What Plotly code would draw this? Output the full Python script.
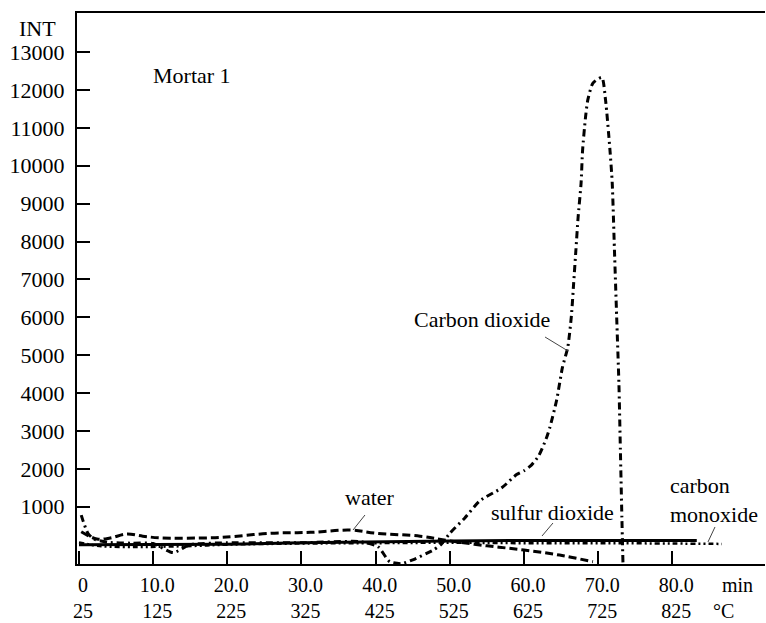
import plotly.graph_objects as go

# ---- data (time in min, intensity INT) ----
water_t = [0.3, 2.4, 4.2, 6.4, 8.6, 10.9, 17.7, 19.9, 25.8, 31.2, 36.6, 40.1, 46.0, 50.0, 55.0, 60.0, 64.8, 69.3]
water_v = [340, 150, 175, 280, 225, 180, 180, 200, 300, 325, 385, 300, 225, 100, -30, -140, -275, -450]

co2_t = [0.3, 0.6, 1.2, 2.0, 4, 7, 10, 12.7, 15, 20, 30, 38, 40.3, 41.9, 43.5, 45, 47.7, 48.8, 50, 52, 54, 57,
         59, 60, 61, 62, 63, 63.5, 64.4, 65.2, 65.9, 66.4, 66.7, 67.0, 67.3, 67.7, 67.9, 68.3, 68.6, 69.3, 70.5,
         71.0, 71.6, 71.9, 72.2, 72.5, 72.8, 73.0, 73.2, 73.35]
co2_v = [780, 600, 300, 150, 60, 40, 30, -210, 0, 50, 50, 80, -50, -450, -500, -400, -150, 0, 300, 700, 1150, 1500,
         1850, 1950, 2100, 2350, 2800, 3100, 3810, 4690, 5200, 6050, 6900, 7770, 8640, 9540, 10400, 11280, 11730, 12180, 12330,
         11730, 10400, 9540, 7770, 6000, 4260, 2500, 730, -500]

so2_t = [0, 10, 20, 30, 40, 50, 60, 70, 80, 83.3]
so2_v = [0, 0, 10, 50, 80, 100, 110, 110, 110, 110]

co_t = [0, 3, 8, 12, 16, 20, 30, 40, 50, 60, 70, 80, 86.7]
co_v = [60, -40, -60, -50, -30, 0, 30, 40, 50, 40, 40, 30, 20]

x_tickvals = [0, 10, 20, 30, 40, 50, 60, 70, 80]
x_min_labels = ["0", "10.0", "20.0", "30.0", "40.0", "50.0", "60.0", "70.0", "80.0"]
x_temp_labels = ["25", "125", "225", "325", "425", "525", "625", "725", "825"]
y_tickvals = [1000, 2000, 3000, 4000, 5000, 6000, 7000, 8000, 9000, 10000, 11000, 12000, 13000]

FONT = "Liberation Serif, 'Times New Roman', 'DejaVu Serif', serif"
FS = 21

fig = go.Figure()
fig.add_trace(go.Scatter(x=so2_t, y=so2_v, mode="lines", line=dict(color="black", width=3),
                         name="sulfur dioxide"))
fig.add_trace(go.Scatter(x=co_t, y=co_v, mode="lines", line_shape="spline",
                         line=dict(color="black", width=2.5, dash="5px,3px,2px,3px,2px,3px"),
                         name="carbon monoxide"))
fig.add_trace(go.Scatter(x=water_t, y=water_v, mode="lines", line_shape="spline",
                         line=dict(color="black", width=3, dash="8px,4px"), name="water"))
fig.add_trace(go.Scatter(x=co2_t, y=co2_v, mode="lines", line_shape="spline", line_smoothing=0.6,
                         line=dict(color="black", width=3, dash="7px,4px,2px,4px"), name="Carbon dioxide"))

fig.update_layout(
    width=766, height=623,
    margin=dict(l=77, r=1, t=13, b=59, autoexpand=False),
    paper_bgcolor="white", plot_bgcolor="white",
    showlegend=False,
    font=dict(family=FONT, size=FS, color="black"),
)
fig.update_xaxes(
    range=[-0.27, 92.5], showgrid=False, zeroline=False, automargin=False,
    showline=True, linecolor="black", linewidth=2, mirror=True,
    ticks="inside", ticklen=13, tickwidth=1.5, tickcolor="black",
    tickvals=x_tickvals,
    ticktext=[f"{a}<br>{b}" for a, b in zip(x_min_labels, x_temp_labels)],
    tickfont=dict(family=FONT, size=20, color="black"),
    ticklabelstandoff=2, ticklabelshift=4,
)
fig.update_yaxes(
    range=[-510, 14030], showgrid=False, zeroline=False, automargin=False,
    showline=True, linecolor="black", linewidth=2,
    ticks="inside", ticklen=13, tickwidth=1.5, tickcolor="black",
    tickvals=y_tickvals, ticktext=[str(v) for v in y_tickvals],
    tickfont=dict(family=FONT, size=FS + 1, color="black"),
    ticklabelstandoff=6,
)

# label pointer lines
pointers = [
    (38.56, 783, 36.95, 387),      # water
    (62.84, 5480, 65.94, 5111),    # carbon dioxide
    (63.91, 572, 62.43, 229),      # sulfur dioxide
    (85.76, 467, 84.81, 71),       # carbon monoxide
]
for x0, y0, x1, y1 in pointers:
    fig.add_shape(type="line", x0=x0, y0=y0, x1=x1, y1=y1, xref="x", yref="y",
                  line=dict(color="#444", width=1))

labels = [
    ("water", 39.24, 1232, "center"),
    ("Carbon dioxide", 54.30, 5929, "center"),
    ("sulfur dioxide", 63.91, 844, "center"),
]
for txt, x, y, anc in labels:
    fig.add_annotation(text=txt, x=x, y=y, xref="x", yref="y", showarrow=False,
                       xanchor=anc, yanchor="middle", font=dict(family=FONT, size=FS + 1, color="black"))
fig.add_annotation(text="carbon<br>monoxide", x=79.42, y=1179, xref="x", yref="y", showarrow=False,
                   xanchor="left", yanchor="middle", align="left",
                   font=dict(family=FONT, size=FS + 1, color="black"))
fig.add_annotation(text="Mortar 1", x=15.24, y=12394, xref="x", yref="y", showarrow=False,
                   xanchor="center", yanchor="middle", font=dict(family=FONT, size=FS + 1, color="black"))
fig.add_annotation(text="INT", x=-0.0567, y=0.972, xref="paper", yref="paper", showarrow=False,
                   xanchor="center", yanchor="middle", font=dict(family=FONT, size=FS + 1, color="black"))
fig.add_annotation(text="min", x=86.43, y=-0.038, xref="x", yref="paper", showarrow=False,
                   xanchor="left", yanchor="middle", font=dict(family=FONT, size=20, color="black"))
fig.add_annotation(text="°C", x=85.22, y=-0.086, xref="x", yref="paper", showarrow=False,
                   xanchor="left", yanchor="middle", font=dict(family=FONT, size=20, color="black"))

fig.write_html("out.html",
               config={"displayModeBar": False},
               post_script="document.body.style.margin='0';document.body.style.padding='0';")
